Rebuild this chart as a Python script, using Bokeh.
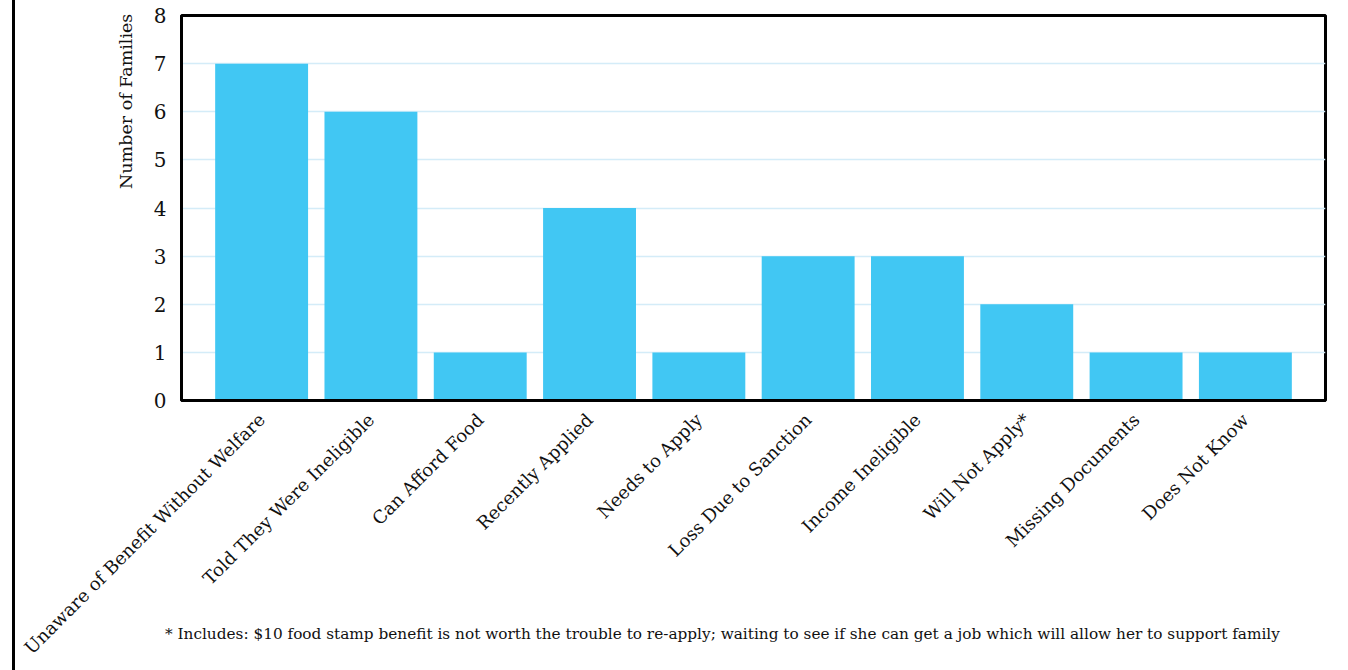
import math
from bokeh.plotting import figure
from bokeh.layouts import column
from bokeh.models import Range1d, FixedTicker, ColumnDataSource, Div
from bokeh.embed import file_html
from bokeh.resources import INLINE

# Reasons families gave for not receiving food stamps
reasons = [
    "Unaware of Benefit Without Welfare",
    "Told They Were Ineligible",
    "Can Afford Food",
    "Recently Applied",
    "Needs to Apply",
    "Loss Due to Sanction",
    "Income Ineligible",
    "Will Not Apply*",
    "Missing Documents",
    "Does Not Know",
]
families = [7, 6, 1, 4, 1, 3, 3, 2, 1, 1]
y_ticks = [0, 1, 2, 3, 4, 5, 6, 7, 8]
y_title = "Number of Families"
footnote = ("* Includes: $10 food stamp benefit is not worth the trouble to re-apply; "
            "waiting to see if she can get a job which will allow her to support family")

FONT = "DejaVu Serif"
BAR = "#41c7f3"

pos = list(range(len(reasons)))
src = ColumnDataSource(dict(x=pos, top=families))

p = figure(
    width=1348, height=670,
    x_range=Range1d(-0.733, len(reasons) - 1 + 0.733),
    y_range=Range1d(0, 8),
    output_backend="svg", toolbar_location=None,
    min_border_left=181, min_border_right=23,
    min_border_top=15, min_border_bottom=270,
)
p.vbar(x="x", top="top", width=0.85, source=src, color=BAR, line_color=None)

# transparent surround so the page rule behind the canvas shows through
p.border_fill_color = None
p.background_fill_color = "white"
p.styles = {"background": "linear-gradient(to right, white 12px, black 12px, black 15px, white 15px)"}

# frame
p.outline_line_color = "black"
p.outline_line_width = 3
p.outline_line_alpha = 1

# grid
p.xgrid.grid_line_color = None
p.ygrid.grid_line_color = "#d4ecf8"
p.ygrid.grid_line_width = 1.5
p.ygrid.ticker = FixedTicker(ticks=y_ticks[1:-1])

# x axis
p.xaxis.ticker = FixedTicker(ticks=pos)
p.xaxis.major_label_overrides = {i: r for i, r in zip(pos, reasons)}
p.xaxis.major_label_orientation = math.pi / 4
p.xaxis.major_label_text_font = FONT
p.xaxis.major_label_text_font_size = "18px"
p.xaxis.major_label_text_color = "#111111"
p.xaxis.major_tick_line_color = None
p.xaxis.minor_tick_line_color = None
p.xaxis.axis_line_color = "black"
p.xaxis.axis_line_width = 3
p.xaxis.major_label_standoff = 10

# y axis
p.yaxis.ticker = FixedTicker(ticks=y_ticks)
p.yaxis.major_label_text_font = FONT
p.yaxis.major_label_text_font_size = "20px"
p.yaxis.major_label_text_color = "#111111"
p.yaxis.major_tick_line_color = None
p.yaxis.minor_tick_line_color = None
p.yaxis.axis_line_color = "black"
p.yaxis.axis_line_width = 3
p.yaxis.major_label_standoff = 9

# y title, set against the top of the axis
ylab = Div(
    text=y_title, width=200, height=20,
    styles={
        "position": "absolute", "left": "116px", "top": "189px",
        "transform": "rotate(-90deg)", "transform-origin": "left top",
        "font-family": "'DejaVu Serif'", "font-size": "17.5px",
        "line-height": "20px", "color": "#111111",
        "white-space": "nowrap", "margin": "0",
    },
)

# footnote laid over the bottom of the chart
note = Div(
    text=footnote, width=1180,
    styles={
        "position": "absolute", "left": "165px", "top": "624px",
        "font-family": "'DejaVu Serif'", "font-size": "15.3px",
        "color": "#111111", "white-space": "nowrap", "margin": "0",
    },
)

layout = column(p, ylab, note, spacing=0)
open("out.html", "w").write(file_html(layout, INLINE))
